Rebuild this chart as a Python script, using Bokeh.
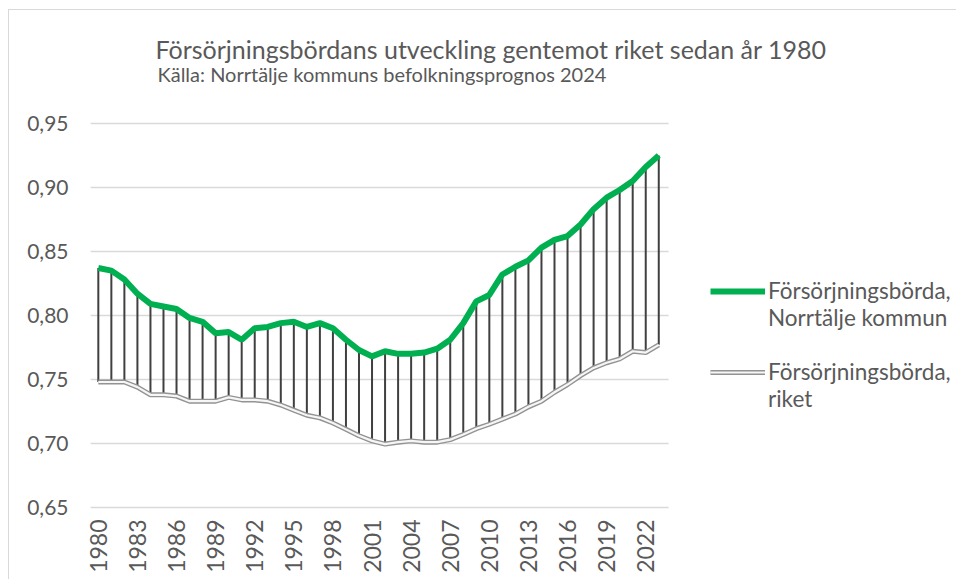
import math
from bokeh.plotting import figure
from bokeh.models import (Range1d, FixedTicker, CustomJSTickFormatter, Label, Legend,
                          LegendItem, BoxAnnotation)
from bokeh.embed import file_html
from bokeh.resources import INLINE

years = list(range(1980, 2024))
norrtalje = [0.837, 0.835, 0.828, 0.817, 0.809, 0.807, 0.805, 0.798, 0.795, 0.786,
             0.787, 0.781, 0.790, 0.791, 0.794, 0.795, 0.791, 0.794, 0.790, 0.781,
             0.773, 0.768, 0.772, 0.770, 0.770, 0.771, 0.774, 0.781, 0.794, 0.811,
             0.816, 0.832, 0.838, 0.843, 0.853, 0.859, 0.862, 0.871, 0.883, 0.892,
             0.898, 0.905, 0.916, 0.925]
riket = [0.748, 0.748, 0.748, 0.744, 0.738, 0.738, 0.737, 0.733, 0.733, 0.733,
         0.736, 0.734, 0.734, 0.733, 0.730, 0.726, 0.722, 0.720, 0.716, 0.711,
         0.706, 0.702, 0.6995, 0.701, 0.702, 0.701, 0.701, 0.703, 0.707, 0.7115,
         0.715, 0.719, 0.723, 0.7286, 0.733, 0.740, 0.746, 0.753, 0.759, 0.763,
         0.766, 0.772, 0.771, 0.777]
x_ticks = list(range(1980, 2023, 3))
y_ticks = [0.65, 0.70, 0.75, 0.80, 0.85, 0.90, 0.95]

title_text = "Försörjningsbördans utveckling gentemot riket sedan år 1980"
subtitle_text = "Källa: Norrtälje kommuns befolkningsprognos 2024"
label_norr = "\nFörsörjningsbörda,\nNorrtälje kommun"
label_riket = "\nFörsörjningsbörda,\nriket"

FONT = "Lato"
TXT = "#595959"

# plot-area end on the category axis (right of it is the legend area)
X_AREA_END = 2023.75

p = figure(width=948, height=570, output_backend="svg", toolbar_location=None,
           x_range=Range1d(1979.4, 2045.92), y_range=Range1d(0.6484, 1.0382),
           min_border_left=81, min_border_right=0, min_border_top=0, min_border_bottom=71)
p.title.visible = False
p.outline_line_color = None
p.background_fill_color = "white"
p.border_fill_color = "white"
p.styles = {"margin-left": "8px", "margin-top": "9px",
            "border-top": "1px solid #d9d9d9", "border-left": "1px solid #d9d9d9"}

seg = p.segment(x0=years, y0=riket, x1=years, y1=norrtalje, line_color="#404040", line_width=2)
r_out = p.line(years, riket, line_color="#939393", line_width=5)
r_in = p.line(years, riket, line_color="#f6f6f6", line_width=2.2)
g = p.line(years, norrtalje, line_color="#00b050", line_width=6)

p.xgrid.visible = False
p.ygrid.grid_line_color = "#d9d9d9"
p.ygrid.grid_line_width = 1.5
p.yaxis.ticker = FixedTicker(ticks=y_ticks)
p.yaxis.formatter = CustomJSTickFormatter(code="return tick.toFixed(2).replace('.', ',');")
p.xaxis.ticker = FixedTicker(ticks=x_ticks)
p.xaxis.major_label_orientation = math.pi / 2
for ax in (p.xaxis[0], p.yaxis[0]):
    ax.axis_line_color = None
    ax.major_tick_line_color = None
    ax.minor_tick_line_color = None
    ax.major_label_text_color = TXT
    ax.major_label_text_font = FONT
    ax.major_label_text_font_size = "21px"
p.xaxis.major_label_text_font_size = "23px"
p.yaxis.major_label_standoff = 16
p.xaxis.major_label_standoff = 4

# white area to the right of the plot area (legend area): hides gridlines there
p.add_layout(BoxAnnotation(left=X_AREA_END, fill_color="white", fill_alpha=1,
                           line_alpha=0, level="glyph"))

p.add_layout(Label(x=65, y=461, x_units="screen", y_units="screen", text=title_text,
                   text_font=FONT, text_font_size="25px", text_color=TXT,
                   text_baseline="alphabetic", text_align="left"))
p.add_layout(Label(x=67, y=436, x_units="screen", y_units="screen", text=subtitle_text,
                   text_font=FONT, text_font_size="20px", text_color=TXT,
                   text_baseline="alphabetic", text_align="left"))

legend = Legend(items=[LegendItem(label=label_norr, renderers=[g]),
                       LegendItem(label=label_riket, renderers=[r_out, r_in])],
                location=(620, 97), glyph_width=55, glyph_height=24, label_standoff=3,
                padding=0, margin=0, spacing=-6, border_line_color=None,
                background_fill_alpha=0, label_text_font=FONT, label_text_font_size="22.5px",
                label_text_line_height=1.3, label_text_color=TXT)
p.add_layout(legend, "center")

open("out.html", "w").write(file_html(p, INLINE))
